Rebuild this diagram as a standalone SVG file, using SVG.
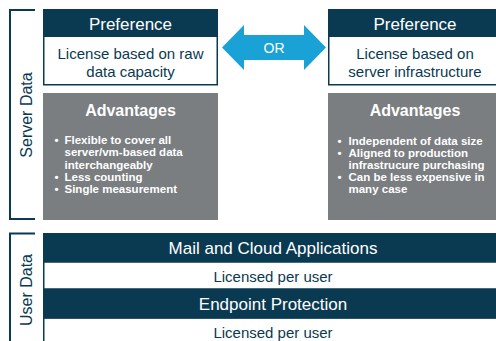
<svg xmlns="http://www.w3.org/2000/svg" width="496" height="341" viewBox="0 0 496 341">
<style>
text{font-family:"Liberation Sans",Arial,sans-serif}
.navy{fill:#0a3a51}
.gray{fill:#7a7e81}
.wbox{fill:#fff;stroke:#0a3a51;stroke-width:1.5}
.hdr{fill:#fff;font-size:17px;text-anchor:middle}
.body{fill:#0a3a51;font-size:15px;text-anchor:middle}
.adv{fill:#fff;font-size:16px;font-weight:bold;text-anchor:middle}
.bul{fill:#fff;font-size:11.5px;font-weight:bold}
.side{fill:#0a3a51;font-size:16px;text-anchor:middle}
.brk{fill:none;stroke:#0a3a51;stroke-width:2}
</style>
<rect width="496" height="341" fill="#fff"/>

<g id="server-data-bracket">
<path class="brk" d="M35 10 H10 V219 H35"/>
<text class="side" transform="translate(32,115) rotate(-90)">Server Data</text>
</g>

<g id="pref-left">
<rect class="wbox" x="43.75" y="9.75" width="173.5" height="75"/>
<rect class="navy" x="43" y="9" width="175" height="28"/>
<text class="hdr" x="130.5" y="29.5">Preference</text>
<text class="body" x="130.5" y="59">License based on raw</text>
<text class="body" x="130.5" y="76.5">data capacity</text>
</g>

<g id="pref-right">
<rect class="wbox" x="328.75" y="9.75" width="175" height="75"/>
<rect class="navy" x="328" y="9" width="176" height="28"/>
<text class="hdr" x="415" y="29.5">Preference</text>
<text class="body" x="415" y="59">License based on</text>
<text class="body" x="415" y="76.5">server infrastructure</text>
</g>

<g id="adv-left">
<rect class="gray" x="43" y="93" width="175" height="127"/>
<text class="adv" x="130.5" y="116">Advantages</text>
<text class="bul" x="54.5" y="143.5">•</text>
<text class="bul" x="64.5" y="143.5">Flexible to cover all</text>
<text class="bul" x="64.5" y="156">server/vm-based data</text>
<text class="bul" x="64.5" y="168.5">interchangeably</text>
<text class="bul" x="54.5" y="180.5">•</text>
<text class="bul" x="64.5" y="180.5">Less counting</text>
<text class="bul" x="54.5" y="192.5">•</text>
<text class="bul" x="64.5" y="192.5">Single measurement</text>
</g>

<g id="adv-right">
<rect class="gray" x="328" y="93" width="176" height="127"/>
<text class="adv" x="415" y="116">Advantages</text>
<text class="bul" x="337.5" y="144.5">•</text>
<text class="bul" x="348.5" y="144.5">Independent of data size</text>
<text class="bul" x="337.5" y="156.5">•</text>
<text class="bul" x="348.5" y="156.5">Aligned to production</text>
<text class="bul" x="348.5" y="168.5">infrastrucure purchasing</text>
<text class="bul" x="337.5" y="180.5">•</text>
<text class="bul" x="348.5" y="180.5">Can be less expensive in</text>
<text class="bul" x="348.5" y="192.5">many case</text>
</g>

<g id="connectors">
<polygon fill="#1aa2d6" points="222,47.5 244,25 244,35 304,35 304,25 326,47.5 304,70 304,60 244,60 244,70"/>
<text x="274" y="53" fill="#fff" font-size="14" text-anchor="middle" font-family="Liberation Sans, Arial, sans-serif">OR</text>
</g>

<g id="user-data-bracket">
<path class="brk" d="M35 233.5 H10 V345"/>
<text class="side" transform="translate(32,290) rotate(-90)">User Data</text>
</g>

<g id="mail-cloud">
<rect class="wbox" x="43.75" y="262" width="462" height="27"/>
<rect class="navy" x="43" y="233" width="463" height="29"/>
<text class="hdr" x="273" y="253.5">Mail and Cloud Applications</text>
<text class="body" x="273" y="282.3">Licensed per user</text>
</g>

<g id="endpoint">
<rect class="wbox" x="43.75" y="318" width="462" height="30"/>
<rect class="navy" x="43" y="289" width="463" height="29.5"/>
<text class="hdr" x="273" y="310">Endpoint Protection</text>
<text class="body" x="273" y="338.3">Licensed per user</text>
</g>
</svg>
